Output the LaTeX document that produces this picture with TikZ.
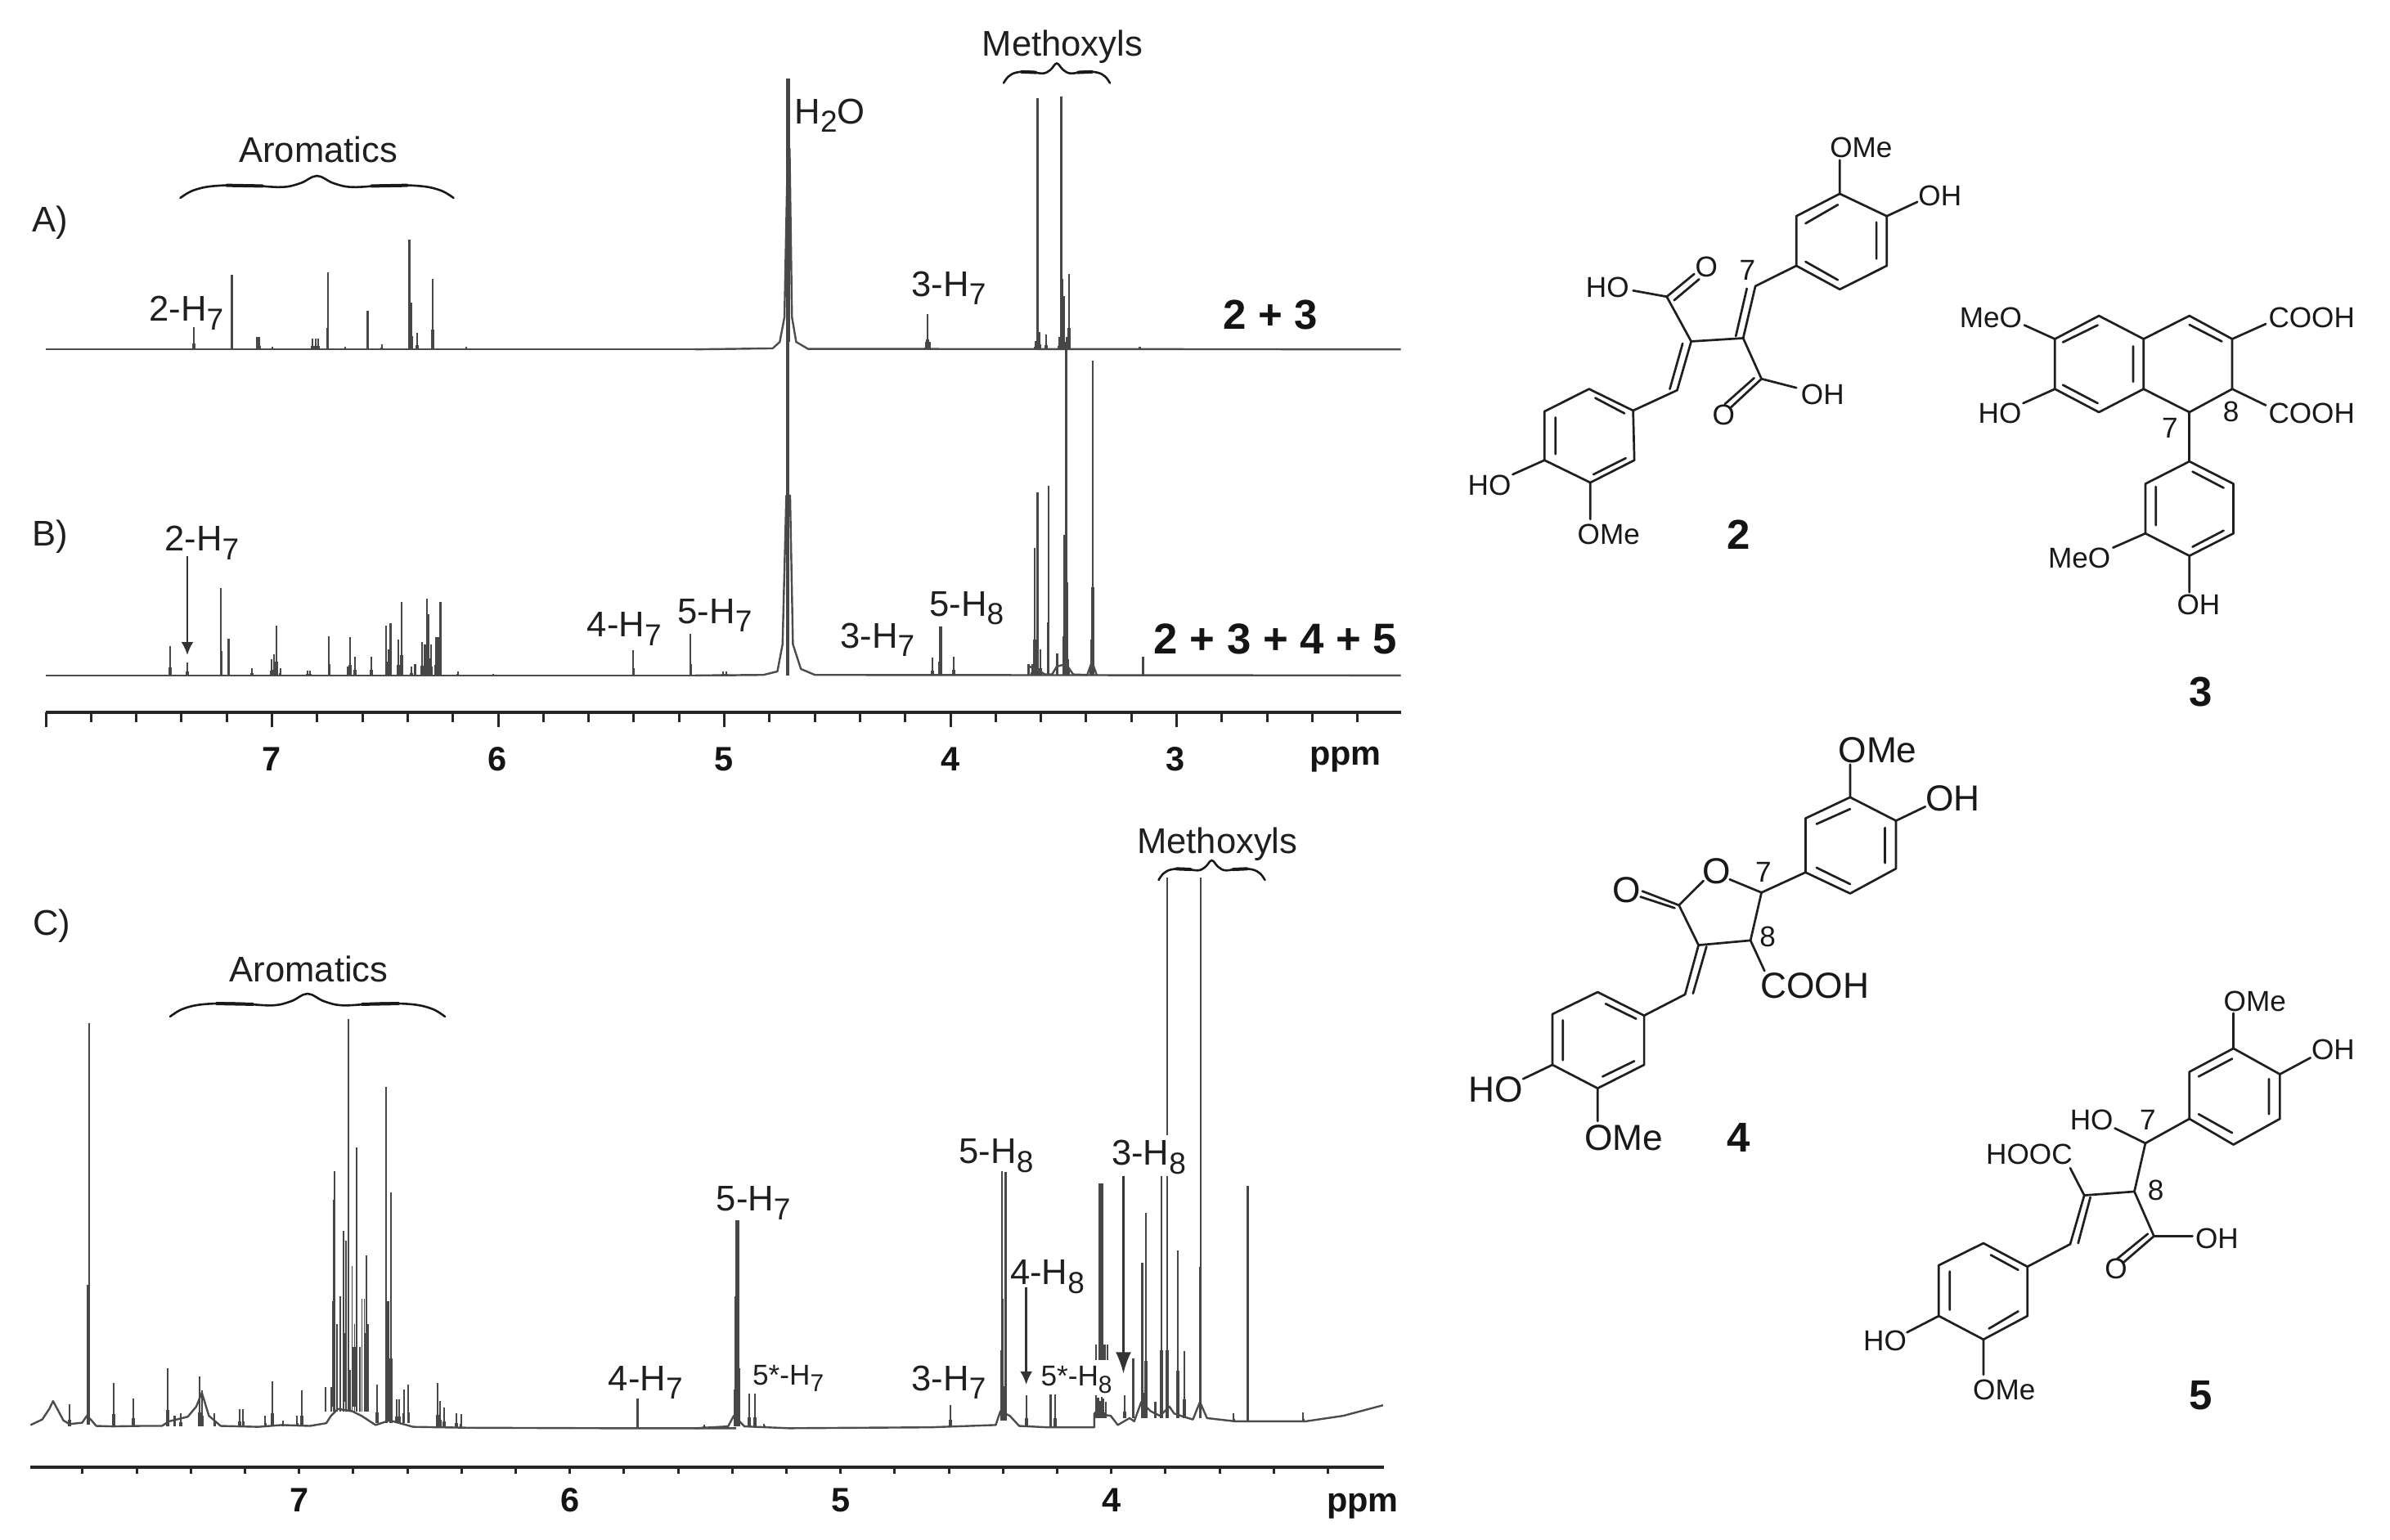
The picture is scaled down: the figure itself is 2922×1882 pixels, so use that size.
\documentclass[tikz,border=0pt]{standalone}
\usepackage{fontspec}
\setmainfont{Liberation Sans}
\usetikzlibrary{arrows.meta}
\newcommand\sbs[1]{\raisebox{-0.24em}{\scalebox{0.85}{#1}}}
\newcommand\peaks[2]{\foreach \xx/\yy in {#2} {\pgfmathsetmacro\ym{#1-(#1-\yy)*0.28}\draw[pk] (\xx,#1)--(\xx,\yy);\draw[pk,line width=0.36mm] (\xx,#1)--(\xx,\ym);}}
\newcommand\thinpeaks[2]{\foreach \xx/\yy in {#2} {\draw[pk,line width=0.17mm] (\xx,#1)--(\xx,\yy);}}
\newcommand\curly[4]{\begin{scope}[shift={(#1,#2)},x={#3*0.1mm},y={-#4*0.1mm}]
 \draw[curve] plot[smooth,tension=.6] coordinates {(-1,1)(-.91,.67)(-.77,.47)(-.53,.42)(-.26,.51)(-.12,.33)(0,0)(.12,.33)(.26,.51)(.53,.42)(.77,.47)(.91,.67)(1,1)};
 \draw[curve,line width=0.4mm] (-.66,.43)--(-.4,.46) (.4,.46)--(.66,.43);
\end{scope}}
\tikzset{
 pk/.style={draw=black!72,line width=0.22mm},
 base line/.style={draw=black!70,line width=0.24mm,line join=round},
 axisline/.style={draw=black!85,line width=0.36mm},
 tickl/.style={draw=black!85,line width=0.3mm},
 curve/.style={draw=black!90,line width=0.26mm,line cap=round},
 lbl/.style={anchor=base,inner sep=0pt,text=black!88,font=\fontsize{12.4}{14}\selectfont},
 small/.style={anchor=base,inner sep=0pt,text=black!88,font=\fontsize{10}{12}\selectfont},
 bnum/.style={anchor=base,inner sep=0pt,text=black!92,font=\bfseries\fontsize{11.8}{13}\selectfont},
 bbig/.style={anchor=base,inner sep=0pt,text=black!92,font=\bfseries\fontsize{14.5}{17}\selectfont},
 arr/.style={draw=black!80,line width=0.25mm,-{Latex[length=1.6mm,width=1.5mm]}},
 arrb/.style={draw=black!80,line width=0.25mm,-{Latex[length=2.6mm,width=1.9mm]}},
 bond/.style={draw=black!88,line width=0.27mm,line cap=round,line join=round},
 chem/.style={anchor=center,inner sep=0pt,text=black!90,font=\fontsize{10}{12}\selectfont},
 chembig/.style={anchor=center,inner sep=0pt,text=black!90,font=\fontsize{12.6}{15}\selectfont},
 zoomA/.style={x=0.0574mm,y=-0.06059mm},
 zoomC/.style={x=0.0574mm,y=-0.05625mm},
 zoomS/.style={x=0.07474mm,y=-0.04974mm},
 zoomT/.style={x=0.07474mm,y=-0.0574mm},
}
\begin{document}
\begin{tikzpicture}[x=0.1mm,y=-0.1mm]
\useasboundingbox (0,0) rectangle (2922,1882);
\fill[white] (0,0) rectangle (2922,1882);
% ---------- spectra A, B left part
\begin{scope}[zoomA]
\draw[base line] (98,705)--(1000,705);
\peaks{705}{413/660,494/555,548/680,552/680,580/700,665/683,672/683,678/683,698/550,735/700,783/627,813/695,872/484,877/610,889/672,922/563,993/700}
\draw[pk,line width=0.4mm] (874,705)--(874,610);
\node[lbl] (la) at (106,468) {A)};
\node[lbl] (lb) at (107,1102) {B)};
\node[lbl] (aro1) at (678,328) {Aromatics};
\node[lbl] (a2h7) at (397,648) {2-H\sbs{7}};
\draw[base line] (98,1363)--(1000,1363);
\peaks{1363}{362/1304,399/1337,471/1186,487/1289,537/1349,578/1330,583/1320,589/1263,597/1348,655/1353,660/1353,701/1284,741/1345,746/1285,756/1325,791/1325,823/1263,827/1310,832/1258,848/1290,855/1214,876/1345,884/1340,899/1295,905/1300,909/1208,913/1240,918/1300,928/1285,933/1285,938/1215,975/1355,1050/1360,1349/1312,1471/1279,1540/1355,1547/1355}
\draw[pk,line width=0.4mm] (829,1363)--(829,1310) (911,1363)--(911,1240) (931,1363)--(931,1285);
\draw[base line] (1000,1363)--(1568,1363);
\draw[base line] (1000,705)--(1568,705);
\node[lbl] (b2h7) at (430,1112) {2-H\sbs{7}};
\coordinate (ba1) at (399,1122);
\coordinate (ba2) at (399,1322);
\draw[arr] (ba1)--(ba2);
\node[lbl] (b4h7) at (1330,1285) {4-H\sbs{7}};
\end{scope}
% ---------- spectra A, B right part
\begin{scope}[shift={(850,0)},zoomA]
\draw[base line] (0,705)--(165,703)--(180,690)--(190,640)--(197,300)--(201,300)--(206,640)--(215,690)--(240,704)--(1503,705);
\draw[pk,line width=0.45mm] (198,690)--(198,158);
\peaks{705}{495/633,491/690,499/690,725/688,729/198,733/670,747/675,775/680,780/195,785/597,791/680,796/553,947/700}
\draw[pk,line width=0.35mm] (780,705)--(780,195) (785,705)--(785,597);
\node[lbl] (h2o) at (287,250) {H\sbs{2}O};
\node[lbl] (a3h7) at (540,598) {3-H\sbs{7}};
\node[lbl] (met1) at (782,113) {Methoxyls};
\node[bbig] (a23) at (1225,665) {2 + 3};
\draw[base line] (0,1363)--(145,1362)--(175,1355)--(186,1300)--(194,1000)--(202,1000)--(208,1300)--(225,1350)--(255,1362)--(1503,1363);
\draw[pk,line width=0.4mm] (197,1363)--(197,690);
\peaks{1363}{505/1327,521/1264,551/1325,710/1340,718/1340,723/1105,729/993,735/1310,752/980,771/1318,786/1080,791/690,795/1330,847/727,843/1290,954/1325}
\draw[pk,line width=0.35mm] (523,1363)--(523,1264) (790,1363)--(790,690);
\draw[base line] (712,1345)--(735,1355)--(745,1361)--(760,1361)--(770,1345)--(790,1340)--(805,1361)--(835,1362)--(845,1335)--(855,1362);
\node[lbl] (b5h7) at (42,1258) {5-H\sbs{7}};
\node[lbl] (b3h7) at (388,1308) {3-H\sbs{7}};
\node[lbl] (b5h8) at (578,1243) {5-H\sbs{8}};
\node[bbig,font=\bfseries\fontsize{15}{17}\selectfont] (b2345) at (1236,1320) {2 + 3 + 4 + 5};
\end{scope}
% ---------- axis A/B
\draw[axisline] (56,871)--(1713,871);
\foreach \k in {0,...,29} {\pgfmathsetmacro\tx{56+55.3*\k}\draw[tickl] (\tx,871)--(\tx,883);}
\foreach \k in {0,...,5} {\pgfmathsetmacro\tx{56+276.5*\k}\draw[tickl] (\tx,871)--(\tx,889);}
\node[bnum] (x7) at (332,942) {7};
\node[bnum] (x6) at (608,942) {6};
\node[bnum] (x5) at (885,942) {5};
\node[bnum] (x4) at (1162,942) {4};
\node[bnum] (x3) at (1437,942) {3};
\node[bnum] (ppm1) at (1645,935) {ppm};
\curly{387.5}{215}{167}{27}
\curly{1292}{77.5}{65}{24}
% ---------- spectrum C left
\begin{scope}[shift={(0,1000)},zoomC]
\draw[base line] (65,1320)--(90,1308)--(105,1285)--(113,1268)--(122,1285)--(135,1310)--(148,1318)--(175,1315)--(185,1300)--(195,1310)--(205,1322)--(240,1323)--(300,1322)--(345,1322)--(360,1312)--(400,1302)--(418,1280)--(430,1250)--(445,1300)--(470,1322)--(550,1324)--(600,1320)--(660,1322)--(695,1316)--(705,1300)--(720,1285)--(750,1290)--(770,1300)--(800,1320)--(830,1310)--(880,1324)--(1000,1326)--(1300,1327)--(1568,1327);
\peaks{1322}{148/1275,242/1229,284/1262,357/1197,372/1300,385/1295,425/1215,430/1245,457/1295,510/1285,518/1285,565/1300,580/1225,603/1310,633/1300,643/1245}
\draw[pk,line width=0.35mm] (188,1320)--(188,1015);
\draw[pk] (190,1320)--(190,447);
\thinpeaks{1290}{694/1238,706/1238,713/768,710/830,718/1100,725/1040,732/898,737/920,742/437,746/1200,750/975,755/1100,760/717,766/1150,771/1045,776/1045,780/952,784/1100}
\peaks{1315}{803/1233,823/585,833/815,845/1265,850/1265,860/1243,870/1233}
\draw[pk,line width=0.4mm] (710,1280)--(710,1050) (735,1270)--(735,1120) (755,1280)--(755,1150) (780,1290)--(780,1120) (825,1310)--(825,1050);
\peaks{1325}{932/1228,937/1268,946/1282,972/1295,982/1297,1358/1262,1500/1320}
\node[lbl] (lc) at (110,255) {C)};
\node[lbl] (aro2) at (658,357) {Aromatics};
\node[lbl] (c4h7) at (1375,1245) {4-H\sbs{7}};
\end{scope}
% ---------- spectrum C right
\begin{scope}[shift={(850,1000)},zoomC]
\draw[base line] (0,1327)--(70,1323)--(82,1300)--(105,1323)--(200,1327)--(500,1325)--(640,1320)--(650,1290)--(670,1300)--(690,1322)--(750,1325)--(850,1325)--(850,1295)--(885,1300)--(900,1320)--(925,1305)--(935,1312)--(950,1270)--(970,1290)--(990,1300)--(1010,1280)--(1020,1295)--(1040,1302)--(1060,1308)--(1075,1270)--(1090,1305)--(1150,1312)--(1300,1312)--(1380,1300)--(1465,1277);
\peaks{1322}{85/1040,90/875,93/875,115/1252,127/1252,147/1318,544/1276}
\peaks{1310}{653/768,661/770,655/1045}
\peaks{1325}{706/1255,757/1254,767/1254}
% columns interrupted by the 5*-H8 and 3-H8 labels
\foreach \xx/\yy in {853/1145,860/800,864/795,868/795,872/1145,878/1145} {\draw[pk] (\xx,1178)--(\xx,\yy);}
\peaks{1305}{854/1255,858/1260,862/1268,866/1258,870/1262,874/1270,915/1255,933/1175,952/968,960/858,957/1250,980/1270,993/778,1005/778,1028/940,1042/1160,1076/130}
\draw[pk] (1005,690)--(1005,130);
\peaks{1312}{1147/1295,1177/800,1295/1292}
\draw[pk,line width=0.45mm] (90,1322)--(90,875);
\draw[pk,line width=0.55mm] (864,1178)--(864,795);
\node[lbl] (c5h7) at (124,855) {5-H\sbs{7}};
\node[small] (c5sh7) at (198,1233) {5*-H\sbs{7}};
\node[lbl] (c3h7) at (540,1245) {3-H\sbs{7}};
\node[lbl] (c5h8) at (641,752) {5-H\sbs{8}};
\node[lbl] (c4h8) at (750,1015) {4-H\sbs{8}};
\node[small] (c5sh8) at (812,1235) {5*-H\sbs{8}};
\node[lbl] (c3h8) at (966,755) {3-H\sbs{8}};
\node[lbl] (met2) at (1112,77) {Methoxyls};
\coordinate (ca1) at (705,1020);
\coordinate (ca2) at (705,1232);
\coordinate (cb1) at (912,778);
\coordinate (cb2) at (912,1208);
\draw[arr] (ca1)--(ca2);
\draw[arrb] (cb1)--(cb2);
\end{scope}
% ---------- axis C
\draw[axisline,line width=0.42mm] (37,1794)--(1692,1794);
\foreach \k in {-4,...,19} {\pgfmathsetmacro\tx{365.7+66.2*\k}\draw[tickl] (\tx,1794)--(\tx,1802);}
\node[bnum] (y7) at (366,1848) {7};
\node[bnum] (y6) at (697,1848) {6};
\node[bnum] (y5) at (1028,1848) {5};
\node[bnum] (y4) at (1359,1848) {4};
\node[bnum] (ppm2) at (1666,1848) {ppm};
\curly{376}{1215}{168}{28}
\curly{1481.5}{1052}{65}{24}
% ---------- compounds 2 and 3
\begin{scope}[shift={(1750,120)},zoomS]
% compound 2
\draw[bond] (668,235)--(745,290)--(745,412)--(668,470)--(597,412)--(597,290)--cycle;
\draw[bond] (612,308)--(665,262) (728,305)--(728,395) (612,402)--(665,447);
\draw[bond] (668,235)--(668,152) (745,290)--(795,255) (597,412)--(530,462);
\draw[bond] (530,462)--(510,590) (516,468)--(498,585);
\draw[bond] (510,590)--(425,598) (425,598)--(385,488) (330,473)--(385,488);
\draw[bond] (385,488)--(430,432) (397,497)--(438,445);
\draw[bond] (425,598)--(402,718) (411,603)--(390,715);
\draw[bond] (510,590)--(540,690) (540,690)--(597,712);
\draw[bond] (540,690)--(490,760) (528,688)--(480,752);
\draw[bond] (402,718)--(330,768);
\draw[bond] (330,768)--(258,715)--(185,770)--(185,890)--(260,945)--(332,890)--cycle;
\draw[bond] (268,737)--(316,775) (203,785)--(203,875) (265,925)--(318,885);
\draw[bond] (185,890)--(133,925) (260,945)--(260,1035);
\node[chem] (t2a) at (703,122) {OMe};
\node[chem] (t2b) at (832,240) {OH};
\node[chem] (t2c) at (517,422) {7};
\node[chem] (t2d) at (450,415) {O};
\node[chem] (t2e) at (288,465) {HO};
\node[chem] (t2f) at (640,728) {OH};
\node[chem] (t2g) at (478,778) {O};
\node[chem] (t2h) at (95,952) {HO};
\node[chem] (t2i) at (290,1072) {OMe};
\node[bbig,anchor=center] (n2) at (502,1072) {2};
% compound 3
\draw[bond] (1092,535)--(1165,592)--(1165,715)--(1092,772)--(1020,715)--(1020,592)--cycle;
\draw[bond] (1165,592)--(1240,535)--(1310,592)--(1310,715)--(1240,772)--(1165,715);
\draw[bond] (1033,600)--(1090,558) (1148,610)--(1148,697) (1033,705)--(1090,750) (1240,557)--(1293,598);
\draw[bond] (1020,592)--(970,558) (1020,715)--(968,750) (1310,592)--(1365,555) (1310,715)--(1365,755);
\draw[bond] (1240,772)--(1240,893);
\draw[bond] (1240,893)--(1312,948)--(1312,1070)--(1240,1125)--(1168,1070)--(1168,948)--cycle;
\draw[bond] (1245,918)--(1296,958) (1185,955)--(1185,1050) (1245,1103)--(1296,1063);
\draw[bond] (1168,1070)--(1115,1105) (1240,1125)--(1240,1215);
\node[chem] (t3a) at (915,540) {MeO};
\node[chem] (t3b) at (930,775) {HO};
\node[chem] (t3c) at (1440,540) {COOH};
\node[chem] (t3d) at (1440,775) {COOH};
\node[chem] (t3e) at (1308,770) {8};
\node[chem] (t3f) at (1208,812) {7};
\node[chem] (t3g) at (1060,1130) {MeO};
\node[chem] (t3h) at (1255,1245) {OH};
\node[bbig,anchor=center] (n3) at (1258,1460) {3};
\end{scope}
% ---------- compounds 4 and 5
\begin{scope}[shift={(1750,860)},zoomT]
% compound 4
\draw[bond] (685,200)--(760,250)--(760,352)--(685,405)--(612,360)--(612,245)--cycle;
\draw[bond] (630,257)--(685,225) (742,265)--(742,340) (630,350)--(685,385);
\draw[bond] (685,200)--(685,130) (760,250)--(808,220) (612,360)--(540,403);
\draw[bond] (540,403)--(522,505)--(437,515)--(405,430)--(445,378) (488,375)--(540,403);
\draw[bond] (405,430)--(345,400) (398,436)--(342,412);
\draw[bond] (522,505)--(545,570);
\draw[bond] (437,515)--(415,620) (450,518)--(428,618) (415,620)--(348,665);
\draw[bond] (348,665)--(272,615)--(198,662)--(198,770)--(272,820)--(348,770)--cycle;
\draw[bond] (285,640)--(335,672) (215,675)--(215,760) (280,795)--(332,762);
\draw[bond] (198,770)--(150,800) (272,820)--(272,890);
\node[chembig] (t4a) at (730,100) {OMe};
\node[chembig] (t4b) at (853,203) {OH};
\node[chem] (t4c) at (543,360) {7};
\node[chembig] (t4d) at (467,357) {O};
\node[chembig] (t4e) at (320,398) {O};
\node[chem] (t4f) at (550,497) {8};
\node[chembig] (t4g) at (627,602) {COOH};
\node[chembig] (t4h) at (105,822) {HO};
\node[chembig] (t4i) at (315,925) {OMe};
\node[bbig,anchor=center] (n4) at (502,925) {4};
% compound 5
\draw[bond] (1312,735)--(1388,790)--(1388,885)--(1312,940)--(1240,885)--(1240,785)--cycle;
\draw[bond] (1255,795)--(1310,757) (1370,800)--(1370,875) (1255,875)--(1310,915);
\draw[bond] (1312,735)--(1312,660) (1388,790)--(1438,755) (1240,885)--(1168,937);
\draw[bond] (1118,905)--(1168,937)--(1150,1040)--(1068,1048)--(1045,990);
\draw[bond] (1068,1048)--(1045,1152) (1078,1052)--(1058,1150);
\draw[bond] (1150,1040)--(1182,1135)--(1245,1135);
\draw[bond] (1182,1135)--(1133,1190) (1172,1130)--(1122,1183);
\draw[bond] (1045,1152)--(975,1200);
\draw[bond] (975,1200)--(903,1150)--(830,1197)--(830,1305)--(903,1355)--(975,1305)--cycle;
\draw[bond] (915,1175)--(960,1207) (848,1210)--(848,1292) (912,1332)--(960,1295);
\draw[bond] (830,1305)--(778,1340) (903,1355)--(903,1430);
\node[chem] (t5a) at (1347,635) {OMe};
\node[chem] (t5b) at (1475,738) {OH};
\node[chem] (t5c) at (1172,888) {7};
\node[chem] (t5d) at (1080,888) {HO};
\node[chem] (t5e) at (1185,1037) {8};
\node[chem] (t5f) at (978,960) {HOOC};
\node[chem] (t5g) at (1285,1140) {OH};
\node[chem] (t5h) at (1120,1205) {O};
\node[chem] (t5i) at (742,1358) {HO};
\node[chem] (t5j) at (937,1462) {OMe};
\node[bbig,anchor=center] (n5) at (1258,1475) {5};
\end{scope}
\end{tikzpicture}
\end{document}
